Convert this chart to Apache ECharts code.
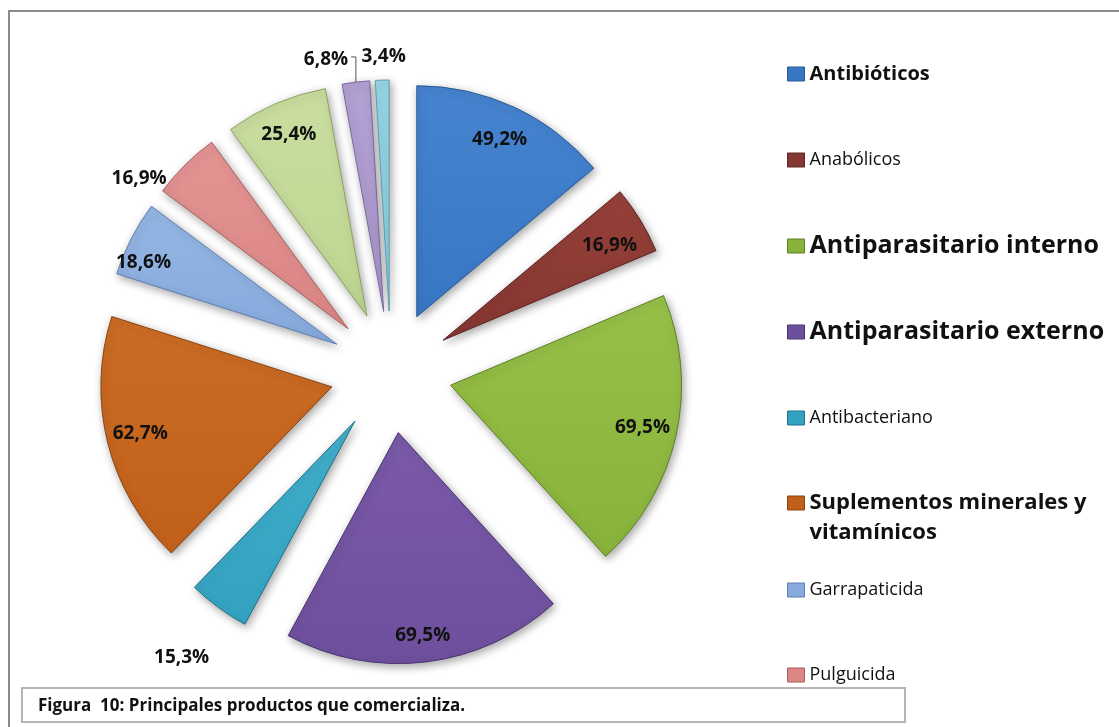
<!DOCTYPE html>
<html>
<head>
<meta charset="utf-8">
<script src="https://cdn.jsdelivr.net/npm/echarts@6/dist/echarts.min.js"></script>
<style>
  html, body { margin: 0; padding: 0; background: #fff; }
  #chart { width: 1119px; height: 727px; }
</style>
</head>
<body>
<div id="chart"></div>
<script>
// Productos que comercializan los encuestados (% de respuestas, respuesta múltiple)
const categories = [
  'Antibióticos',
  'Anabólicos',
  'Antiparasitario interno',
  'Antiparasitario externo',
  'Antibacteriano',
  'Suplementos minerales y vitamínicos',
  'Garrapaticida',
  'Pulguicida',
  'Vacunas',
  'Desinfectantes',
  'Otros'
];
const values = [49.2, 16.9, 69.5, 69.5, 15.3, 62.7, 18.6, 16.9, 25.4, 6.8, 3.4];
const caption = 'Figura  10: Principales productos que comercializa.';

// Slice palette: [top tint, base, outline]
const palette = [
  ['#4684d0', '#3877c4', '#2a5a94'],
  ['#964139', '#863632', '#5e2624'],
  ['#97c048', '#88b23a', '#5e7f24'],
  ['#7a5aa9', '#6e4f9d', '#4a3470'],
  ['#41afcb', '#33a2c0', '#237089'],
  ['#cc6c24', '#c1601a', '#8a4412'],
  ['#94b6e4', '#86aadd', '#5e7faf'],
  ['#e49393', '#dc8686', '#a95e5e'],
  ['#c9dea0', '#bed591', '#8da360'],
  ['#b4a1d4', '#a995cc', '#7d6b9e'],
  ['#98d5e6', '#8acde0', '#5c9fb1']
];

// Pie geometry
const CENTER = [391, 372];
const RADIUS = 231;
const EXPLODE = 61;

// Label placement per slice: [fraction of radius, angular shift in degrees]
const labelPlace = [
  [0.835, 0], [0.816, 1.8], [0.838, 0], [0.874, 0], [1.256, 0],
  [0.841, 0.4], [0.895, -4.4], [1.10, -9.7], [0.842, 0], [1.117, -6], [1.087, 0.5]
];
const LEADER = 9;   // slice whose label gets a leader line

const total = values.reduce((a, b) => a + b, 0);
function midAngle(i) {
  let s = 0;
  for (let k = 0; k < i; k++) s += values[k];
  return (s + values[i] / 2) / total * 360;
}
function polar(c, deg, r) {
  const a = deg * Math.PI / 180;
  return [c[0] + Math.sin(a) * r, c[1] - Math.cos(a) * r];
}
function fmt(v) { return v.toFixed(1).replace('.', ',') + '%'; }

function fill(i) {
  return new echarts.graphic.LinearGradient(0, 0, 0, 1, [
    { offset: 0, color: palette[i][0] },
    { offset: 1, color: palette[i][1] }
  ]);
}

const pieData = categories.map((name, i) => ({
  name: name,
  value: values[i],
  selected: true,
  itemStyle: {
    color: fill(i),
    borderColor: palette[i][2],
    borderWidth: 1,
    shadowBlur: 9,
    shadowOffsetX: 2,
    shadowOffsetY: 3,
    shadowColor: 'rgba(0,0,0,0.35)'
  },
  label: { position: i === LEADER ? 'outside' : 'inside' },
  labelLine: { show: i === LEADER, lineStyle: { color: '#555', width: 1 } }
}));

// Labels are nudged from the library's own spot to a point along the exploded slice.
function labelLayout(params) {
  const i = params.dataIndex;
  const mid = midAngle(i);
  const off = polar([0, 0], mid, EXPLODE);
  const c = [CENTER[0] + off[0], CENTER[1] + off[1]];
  const p = polar(c, mid + labelPlace[i][1], labelPlace[i][0] * RADIUS);
  if (i !== LEADER) {
    const base = polar(c, mid, RADIUS / 2);
    return { dx: p[0] - base[0], dy: p[1] - base[1] };
  }
  // outside label: its rect is reported before the slice is pulled out
  const r = params.labelRect;
  const rim = polar(c, mid, RADIUS);
  const lx = p[0] + r.width / 2 + 3;
  const ly = p[1] - 3;
  return {
    dx: p[0] - (r.x + r.width / 2) - off[0],
    dy: p[1] - (r.y + r.height / 2) - off[1],
    labelLinePoints: [[lx, ly], [rim[0], ly], rim].map(q => [q[0] - off[0], q[1] - off[1]])
  };
}

const legendFont = 'Open Sans';
function legendItem(i, size, bold) {
  return {
    name: categories[i],
    icon: 'rect',
    itemStyle: { color: palette[i][1], borderColor: palette[i][2], borderWidth: 1 },
    textStyle: { fontSize: size, fontWeight: bold ? 'bold' : 'normal', fontFamily: legendFont, color: '#111', lineHeight: 30 }
  };
}
const legendCommon = {
  orient: 'vertical',
  left: 787,
  padding: 0,
  itemWidth: 17,
  itemHeight: 14,
  selectedMode: false,
  textStyle: { fontFamily: legendFont, color: '#111', lineHeight: 30 }
};

const option = {
  animation: false,
  backgroundColor: '#fff',
  legend: [
    Object.assign({}, legendCommon, {
      top: 59, itemGap: 56,
      data: [legendItem(0, 20, true), legendItem(1, 18, false), legendItem(2, 25, true),
             legendItem(3, 25, true), legendItem(4, 18, false)]
    }),
    Object.assign({}, legendCommon, {
      top: 458,
      data: [legendItem(5, 22, true)],
      // empty first line keeps the icon level with the first written line
      formatter: () => '\nSuplementos minerales y\nvitamínicos'
    }),
    Object.assign({}, legendCommon, {
      top: 575, itemGap: 55,
      data: [legendItem(6, 18, false), legendItem(7, 18, false)]
    })
  ],
  series: [{
    type: 'pie',
    name: 'productos',
    center: CENTER,
    radius: RADIUS,
    startAngle: 90,
    clockwise: true,
    selectedMode: 'multiple',
    selectedOffset: EXPLODE,
    avoidLabelOverlap: false,
    silent: true,
    label: {
      formatter: p => fmt(p.value),
      fontFamily: 'Open Sans',
      fontWeight: 'bold',
      fontSize: 19,
      color: '#111'
    },
    labelLine: { length: 10, length2: 10 },
    labelLayout: labelLayout,
    emphasis: { disabled: true },
    select: { itemStyle: {} },
    data: pieData
  }],
  graphic: [
    {
      type: 'rect', silent: true, z: -1,
      shape: { x: 9, y: 11, width: 1200, height: 800 },
      style: { fill: 'none', stroke: '#8a8a8a', lineWidth: 2 }
    },
    {
      type: 'rect', silent: true,
      shape: { x: 22, y: 688, width: 883, height: 34 },
      style: { fill: '#fff', stroke: '#b4b4b4', lineWidth: 2 }
    },
    {
      type: 'text', silent: true,
      x: 38, y: 706,
      style: {
        text: caption,
        fontFamily: 'Open Sans', fontWeight: 'bold', fontSize: 17,
        fill: '#111', verticalAlign: 'middle'
      }
    }
  ]
};

const chart = echarts.init(document.getElementById('chart'), null, { renderer: 'canvas' });
chart.setOption(option);
</script>
</body>
</html>
